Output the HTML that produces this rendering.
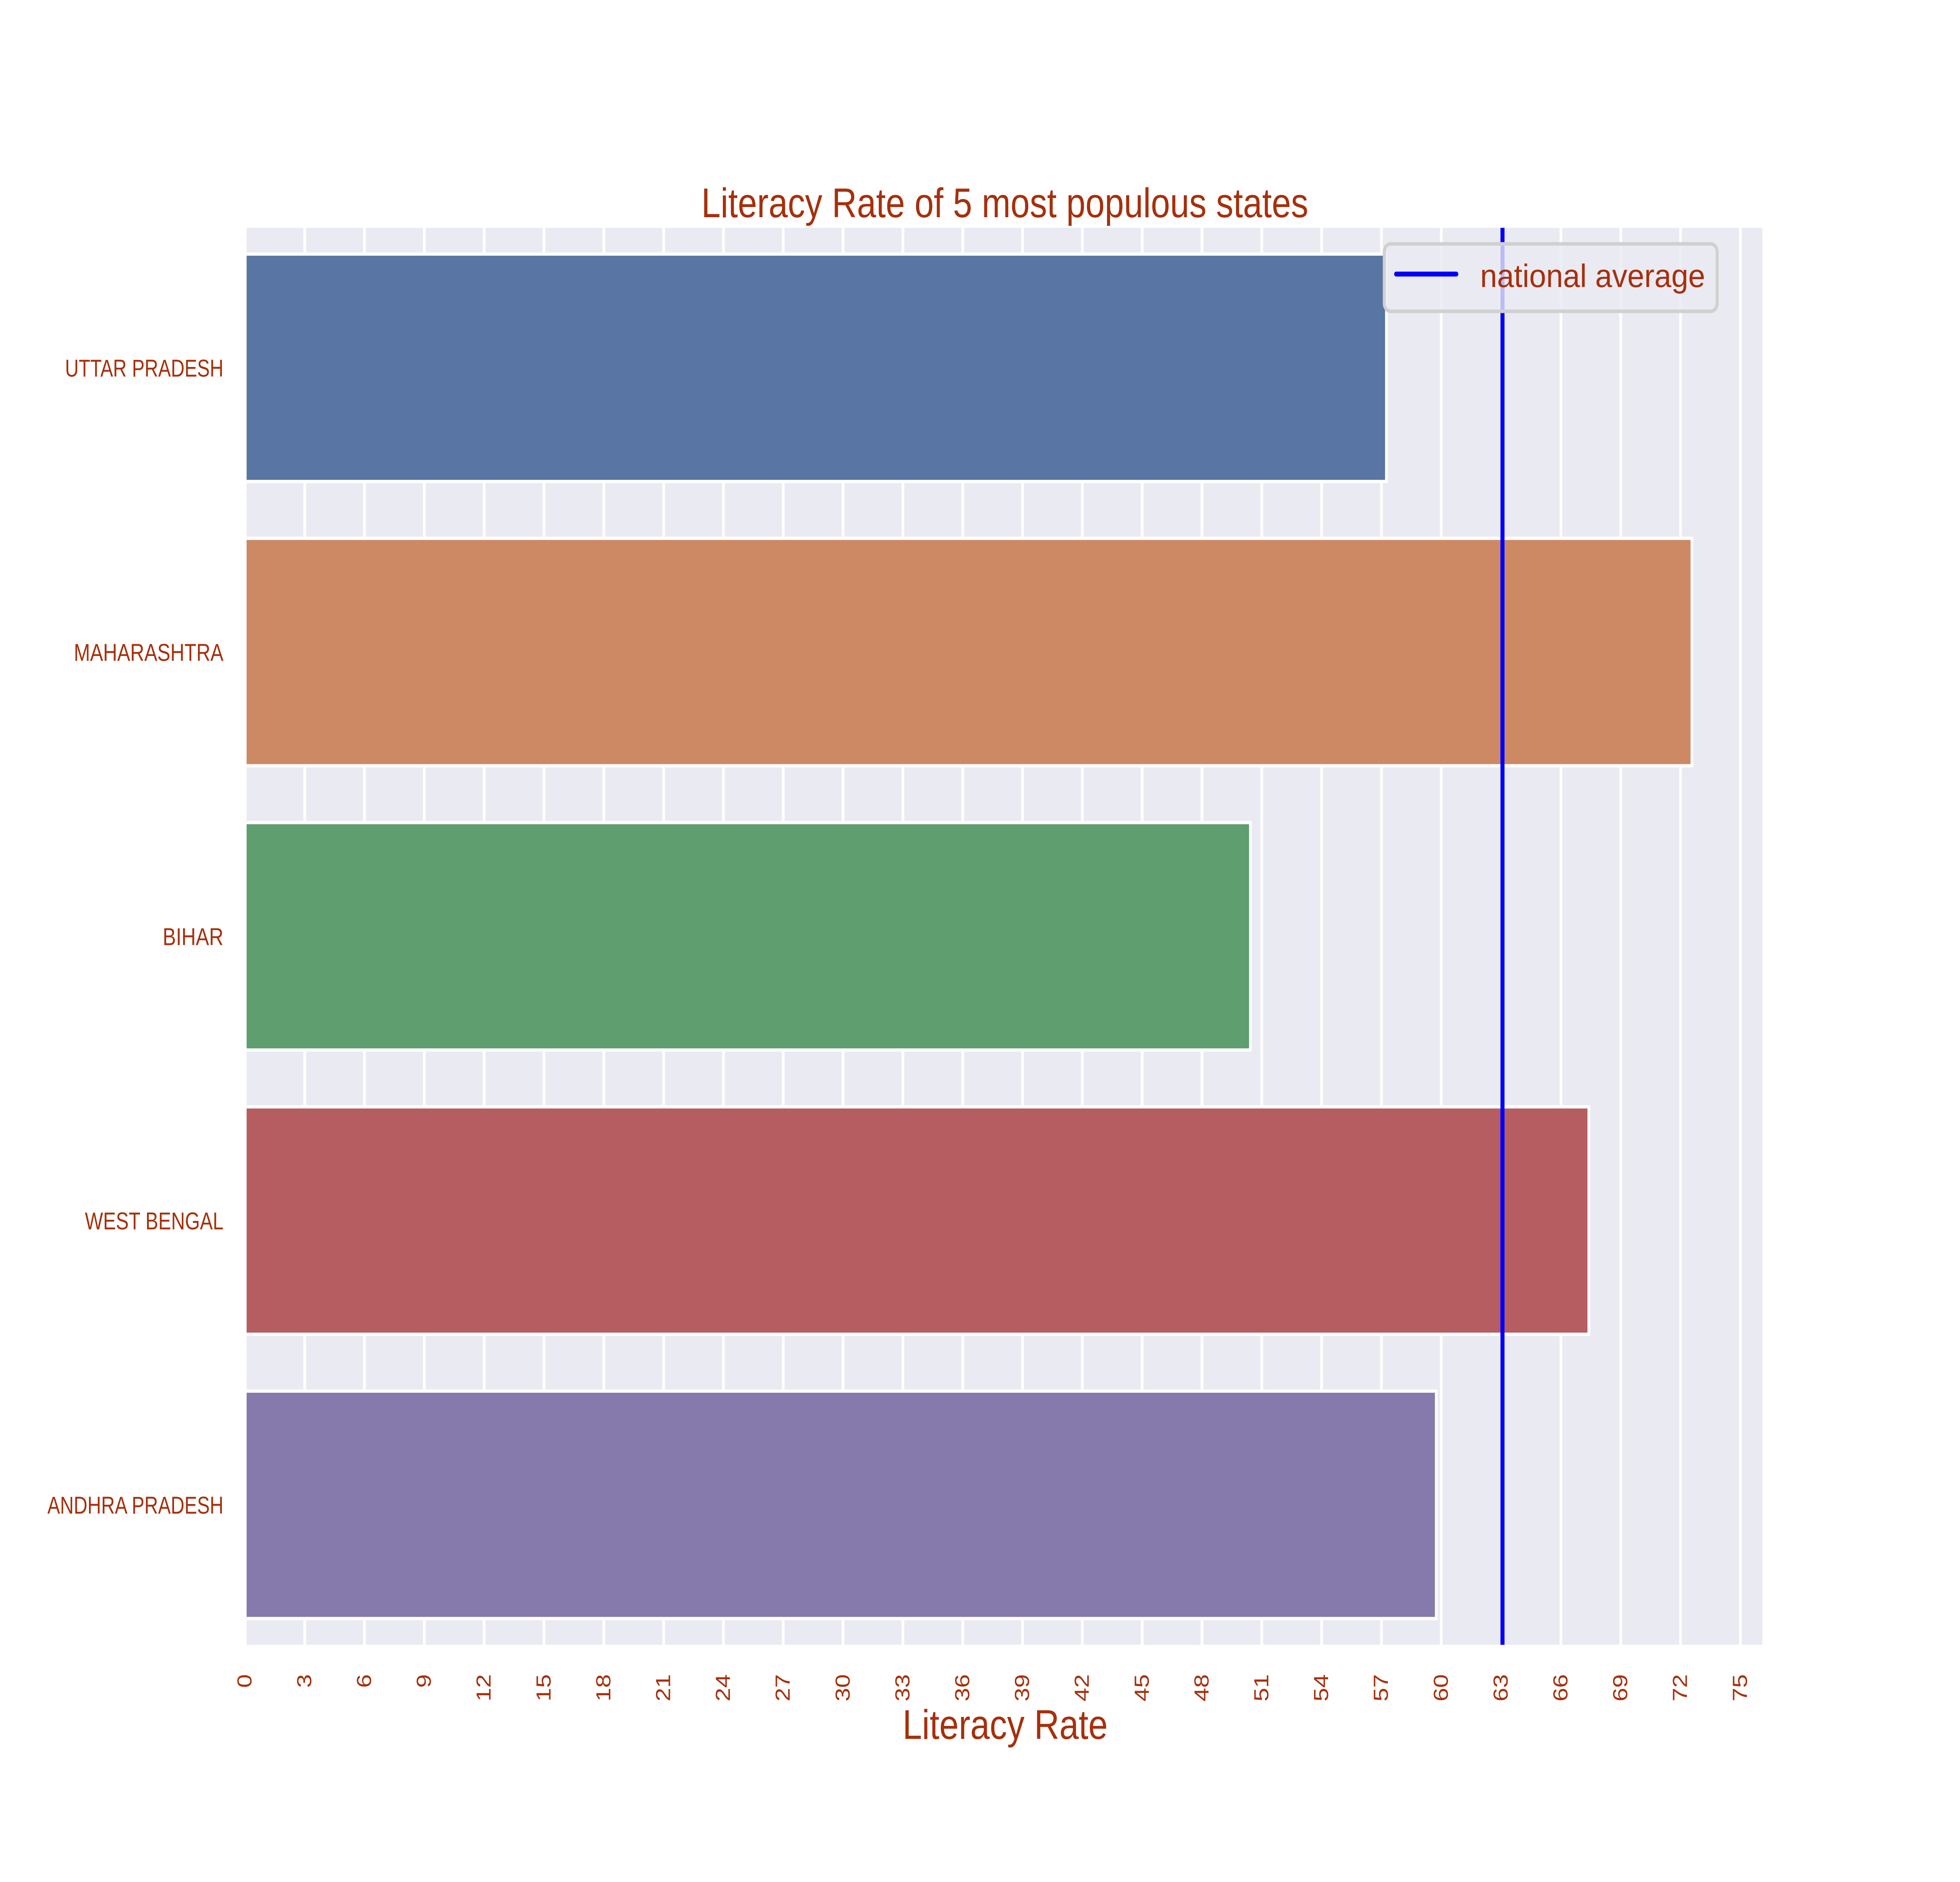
<!DOCTYPE html>
<html lang="en">
<head>
<meta charset="utf-8">
<title>Literacy Rate of 5 most populous states</title>
<style>
  html, body { margin: 0; padding: 0; background: #ffffff; width: 100%; height: 100%; overflow: hidden; }
  svg { display: block; width: 100vw; height: 100vh; }
  text { font-family: "Liberation Sans", sans-serif; fill: #a6300c; }
  .bar { stroke: #ffffff; stroke-width: 8.33; }
  .bar-0 { fill: #5975a4; }
  .bar-1 { fill: #cc8963; }
  .bar-2 { fill: #5f9e6e; }
  .bar-3 { fill: #b55d60; }
  .bar-4 { fill: #857aab; }
  .grid-line { stroke: #ffffff; stroke-width: 8.33; }
  .tick-label { font-size: 62.5px; }
</style>
</head>
<body>
<svg id="chart" xmlns="http://www.w3.org/2000/svg" viewBox="0 0 6000 4800" preserveAspectRatio="none">
  <defs>
    <clipPath id="axes-clip"><rect x="755" y="581" width="4640" height="3614"></rect></clipPath>
  </defs>
  <rect x="0" y="0" width="6000" height="4800" fill="#ffffff"></rect>
  <rect x="755" y="581" width="4640" height="3614" fill="#eaeaf2"></rect>
  <g id="grid" clip-path="url(#axes-clip)"></g>
  <g id="bars" clip-path="url(#axes-clip)"></g>
  <g id="avg" clip-path="url(#axes-clip)"></g>
  <g id="xticks"></g>
  <g id="yticks"></g>
  <text x="2147" y="554" font-size="106" textLength="1858" lengthAdjust="spacingAndGlyphs">Literacy Rate of 5 most populous states</text>
  <text x="2763" y="4435" font-size="106" textLength="628" lengthAdjust="spacingAndGlyphs">Literacy Rate</text>
  <g>
    <rect x="4237.5" y="622" width="1019" height="172" rx="20" ry="20" fill="#eaeaf2" fill-opacity="0.8" stroke="#d0d0d0" stroke-width="9"></rect>
    <line x1="4274" y1="699" x2="4458" y2="699" stroke="#0000ff" stroke-width="12.5" stroke-linecap="round"></line>
    <text x="4531" y="732" font-size="83" textLength="689" lengthAdjust="spacingAndGlyphs">national average</text>
  </g>
</svg>
<script>
const categories = ["UTTAR PRADESH", "MAHARASHTRA", "BIHAR", "WEST BENGAL", "ANDHRA PRADESH"];
const literacyRates = [57.25, 72.57, 50.43, 67.40, 59.75];
const nationalAverage = [63.07];
const xTickValues = [0, 3, 6, 9, 12, 15, 18, 21, 24, 27, 30, 33, 36, 39, 42, 45, 48, 51, 54, 57, 60, 63, 66, 69, 72, 75];

const SVG_NS = "http://www.w3.org/2000/svg";
const AXES_TOP = 581;
const AXES_BOTTOM = 4195;
const X_ORIGIN = 749.6;
const X_UNIT = 61.04;
const BAND_START = 575.5;
const BAND_SIZE = 725;
const BAR_FRACTION = 0.8;
const Y_LABEL_RIGHT = 684;
const Y_LABEL_BASELINE_OFFSET = 22.5;
const X_LABEL_TOP = 4270;
const X_LABEL_BASELINE_OFFSET = 20;
const fittedLabelLengths = { "UTTAR PRADESH": 485, "MAHARASHTRA": 458, "BIHAR": 186, "WEST BENGAL": 424, "ANDHRA PRADESH": 539 };

function xScale(value) {
  return X_ORIGIN + value * X_UNIT;
}
function yBandCenter(index) {
  return BAND_START + BAND_SIZE * (index + 0.5);
}
function make(tag) {
  return document.createElementNS(SVG_NS, tag);
}

const gridGroup = document.getElementById("grid");
const xTickGroup = document.getElementById("xticks");
xTickValues.forEach(function (tick) {
  const px = xScale(tick);

  const gridLine = make("line");
  
  
  gridLine.setAttribute("class", "grid-line");
  gridLine.setAttribute("x1", px);
  gridLine.setAttribute("x2", px);
  gridLine.setAttribute("y1", AXES_TOP);
  gridLine.setAttribute("y2", AXES_BOTTOM);
  gridGroup.appendChild(gridLine);

  const label = make("text");
  
  
  label.setAttribute("class", "tick-label");
  const lx = px + X_LABEL_BASELINE_OFFSET;
  label.setAttribute("x", lx);
  label.setAttribute("y", X_LABEL_TOP);
  label.setAttribute("text-anchor", "end");
  label.setAttribute("transform", "rotate(-90 " + lx + " " + X_LABEL_TOP + ")");
  label.textContent = String(tick);
  xTickGroup.appendChild(label);
});

const barGroup = document.getElementById("bars");
const yTickGroup = document.getElementById("yticks");
categories.forEach(function (name, i) {
  const slug = name.toLowerCase().replace(/\s+/g, "-");
  const center = yBandCenter(i);
  const barHeight = BAND_SIZE * BAR_FRACTION;

  const bar = make("rect");
  
  
  bar.setAttribute("class", "bar bar-" + i);
  bar.setAttribute("x", xScale(0));
  bar.setAttribute("y", center - barHeight / 2);
  bar.setAttribute("width", xScale(literacyRates[i]) - xScale(0));
  bar.setAttribute("height", barHeight);
  barGroup.appendChild(bar);

  const label = make("text");
  
  
  label.setAttribute("class", "tick-label");
  label.setAttribute("x", Y_LABEL_RIGHT);
  label.setAttribute("y", center + Y_LABEL_BASELINE_OFFSET);
  label.setAttribute("text-anchor", "end");
  label.setAttribute("textLength", fittedLabelLengths[name]);
  label.setAttribute("lengthAdjust", "spacingAndGlyphs");
  label.textContent = name;
  yTickGroup.appendChild(label);
});

const avgLine = make("line");


avgLine.setAttribute("x1", xScale(nationalAverage[0]));
avgLine.setAttribute("x2", xScale(nationalAverage[0]));
avgLine.setAttribute("y1", AXES_TOP);
avgLine.setAttribute("y2", AXES_BOTTOM);
avgLine.setAttribute("stroke", "#0000ff");
avgLine.setAttribute("stroke-width", "12.5");
document.getElementById("avg").appendChild(avgLine);
</script>
</body>
</html>
